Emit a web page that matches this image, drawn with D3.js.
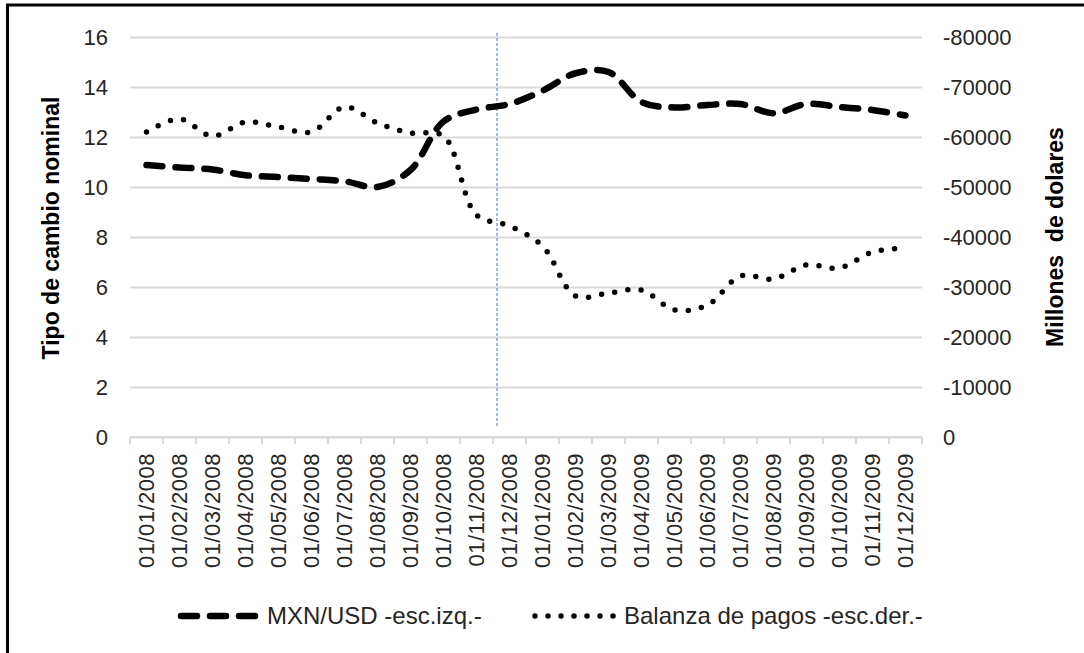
<!DOCTYPE html>
<html lang="es">
<head>
  <meta charset="UTF-8">
  <title>Tipo de cambio y balanza de pagos</title>
  <script src="https://d3js.org/d3.v7.min.js"></script>
  <style>
    body { margin: 0; background: #fff; }
    svg text { font-family: "Liberation Sans", Arial, sans-serif; fill: #000; }
    .tick-label { font-size: 22px; fill: #262626; }
    .xlabel { letter-spacing: 0.5px; }
    .axis-title { font-size: 23px; font-weight: bold; }
    .legend-text { font-size: 24px; fill: #262626; }
    .grid line { stroke: #d9d9d9; stroke-width: 2; }
    .grid path { display: none; }
  </style>
</head>
<body>
<svg width="1084" height="653"></svg>
<script>
  // datos
  const fechas = ["01/01/2008", "01/02/2008", "01/03/2008", "01/04/2008", "01/05/2008", "01/06/2008",
    "01/07/2008", "01/08/2008", "01/09/2008", "01/10/2008", "01/11/2008", "01/12/2008",
    "01/01/2009", "01/02/2009", "01/03/2009", "01/04/2009", "01/05/2009", "01/06/2009",
    "01/07/2009", "01/08/2009", "01/09/2009", "01/10/2009", "01/11/2009", "01/12/2009"];
  const mxnUsd = [10.88, 10.78, 10.7, 10.47, 10.4, 10.32, 10.23, 10.0, 10.68, 12.62, 13.1, 13.32,
    13.85, 14.55, 14.6, 13.4, 13.18, 13.28, 13.32, 12.95, 13.32, 13.2, 13.08, 12.86];
  const balanza = [-61000, -63600, -60200, -63000, -62000, -61000, -66000, -62800, -60800, -60200, -44400, -42200,
    -38200, -28200, -28800, -29400, -25400, -26400, -32200, -31600, -34400, -33800, -37000, -37800];
  const ticksIzq = [0, 2, 4, 6, 8, 10, 12, 14, 16];
  const ticksDer = [0, -10000, -20000, -30000, -40000, -50000, -60000, -70000, -80000];

  const svg = d3.select("svg");
  const plot = {left: 130, right: 922, top: 37, bottom: 437};

  // marco
  svg.append("path")
    .attr("d", `M7.5,653 V5 H1084`)
    .attr("fill", "none")
    .attr("stroke", "#000")
    .attr("stroke-width", 3);

  const x = d3.scaleBand().domain(fechas).range([plot.left, plot.right]);
  const y = d3.scaleLinear().domain([0, 16]).range([plot.bottom, plot.top]);
  const y2 = d3.scaleLinear().domain([0, -80000]).range([plot.bottom, plot.top]);

  // rejilla
  svg.append("g")
    .attr("class", "grid")
    .attr("transform", `translate(${plot.left},0)`)
    .call(d3.axisLeft(y).tickValues(ticksIzq).tickSize(-(plot.right - plot.left)).tickFormat(""));

  // eje izquierdo
  const axL = svg.append("g")
    .attr("transform", `translate(${plot.left},0)`)
    .call(d3.axisLeft(y).tickValues(ticksIzq).tickSize(0).tickPadding(22));
  axL.select(".domain").remove();
  axL.attr("font-size", null).attr("font-family", null);
  axL.selectAll("text").attr("class", "tick-label");

  // eje derecho (con guion normal, como en Excel)
  const axR = svg.append("g")
    .attr("transform", `translate(${plot.right},0)`)
    .call(d3.axisRight(y2).tickValues(ticksDer).tickSize(0).tickPadding(21).tickFormat(d => String(d)));
  axR.select(".domain").remove();
  axR.attr("font-size", null).attr("font-family", null);
  axR.selectAll("text").attr("class", "tick-label");

  // eje x
  const axX = svg.append("g")
    .attr("transform", `translate(0,${plot.bottom})`);
  axX.append("line")
    .attr("x1", plot.left).attr("x2", plot.right)
    .attr("stroke", "#d9d9d9").attr("stroke-width", 2);
  axX.selectAll(".xtick")
    .data(fechas.map(d => x(d)).concat([x.range()[1]]))
    .join("line")
    .attr("class", "xtick")
    .attr("x1", d => d).attr("x2", d => d)
    .attr("y1", 0).attr("y2", 7)
    .attr("stroke", "#d9d9d9").attr("stroke-width", 2);
  axX.selectAll(".xlabel")
    .data(fechas)
    .join("text")
    .attr("class", "tick-label xlabel")
    .attr("text-anchor", "end")
    .attr("dy", "0.35em")
    .attr("transform", d => `translate(${x(d) + x.bandwidth() / 2},16) rotate(-90)`)
    .text(d => d);

  // títulos de ejes
  svg.append("text")
    .attr("class", "axis-title")
    .attr("text-anchor", "middle")
    .attr("transform", "translate(59,228) rotate(-90)")
    .text("Tipo de cambio nominal");
  svg.append("text")
    .attr("class", "axis-title")
    .attr("text-anchor", "middle")
    .attr("transform", "translate(1063,237) rotate(-90)")
    .style("white-space", "pre")
    .text("Millones  de dolares");

  // línea vertical azul
  svg.append("line")
    .attr("x1", 497).attr("x2", 497)
    .attr("y1", 33).attr("y2", 427)
    .attr("stroke", "#4472c4")
    .attr("stroke-width", 1)
    .attr("stroke-dasharray", "3,2");

  const cx = d => x(d) + x.bandwidth() / 2;

  const lineaMxn = d3.line()
    .x((d, i) => cx(fechas[i]))
    .y(d => y(d))
    .curve(d3.curveCatmullRom.alpha(0.5));
  const lineaBal = d3.line()
    .x((d, i) => cx(fechas[i]))
    .y(d => y2(d))
    .curve(d3.curveCatmullRom.alpha(0.5));

  svg.append("path")
    .datum(balanza)
    .attr("d", lineaBal)
    .attr("fill", "none")
    .attr("stroke", "#000")
    .attr("stroke-width", 5.5)
    .attr("stroke-linecap", "round")
    .attr("stroke-dasharray", "0,13.3");

  svg.append("path")
    .datum(mxnUsd)
    .attr("d", lineaMxn)
    .attr("fill", "none")
    .attr("stroke", "#000")
    .attr("stroke-width", 6.5)
    .attr("stroke-linecap", "round")
    .attr("stroke-dasharray", "16,13");

  // leyenda
  const ley = svg.append("g");
  ley.append("line")
    .attr("x1", 181).attr("x2", 255).attr("y1", 616).attr("y2", 616)
    .attr("stroke", "#000").attr("stroke-width", 6.5)
    .attr("stroke-linecap", "round").attr("stroke-dasharray", "16,13");
  ley.append("text")
    .attr("class", "legend-text")
    .attr("x", 267).attr("y", 624)
    .text("MXN/USD -esc.izq.-");
  ley.append("line")
    .attr("x1", 535).attr("x2", 614).attr("y1", 616).attr("y2", 616)
    .attr("stroke", "#000").attr("stroke-width", 5.5)
    .attr("stroke-linecap", "round").attr("stroke-dasharray", "0,13");
  ley.append("text")
    .attr("class", "legend-text")
    .attr("x", 624).attr("y", 624)
    .text("Balanza de pagos -esc.der.-");
</script>
</body>
</html>
